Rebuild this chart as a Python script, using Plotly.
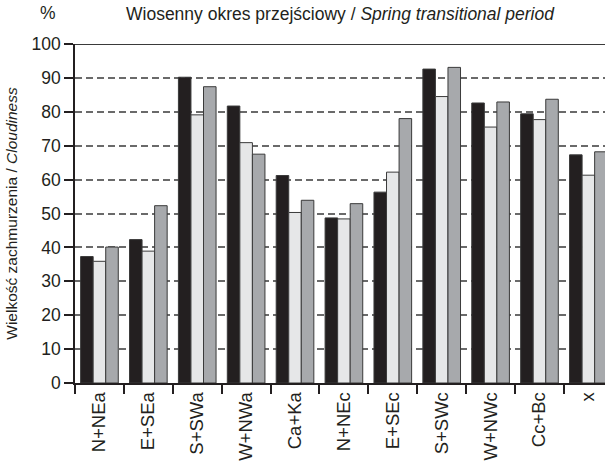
import plotly.graph_objects as go

categories = ["N+NEa", "E+SEa", "S+SWa", "W+NWa", "Ca+Ka", "N+NEc", "E+SEc", "S+SWc", "W+NWc", "Cc+Bc", "x"]
series1 = [37.3, 42.3, 90.2, 81.7, 61.2, 48.7, 56.3, 92.6, 82.6, 79.4, 67.3]
series2 = [35.9, 38.9, 79.1, 70.9, 50.3, 48.4, 62.2, 84.5, 75.5, 77.7, 61.3]
series3 = [40.1, 52.3, 87.4, 67.5, 53.9, 52.9, 78.0, 93.1, 82.9, 83.7, 68.2]
y_ticks = [0, 10, 20, 30, 40, 50, 60, 70, 80, 90, 100]

FONT = "Liberation Sans, Arial, sans-serif"
TXT = "#231f20"

fig = go.Figure()
for vals, col in [(series1, "#231f20"), (series2, "#e6e7e8"), (series3, "#a7a9ac")]:
    fig.add_trace(go.Bar(x=categories, y=vals, marker=dict(color=col, line=dict(color="#3a3a3a", width=1)),
                         showlegend=False))

fig.update_layout(
    width=605, height=467,
    margin=dict(l=75, r=0, t=44, b=84, autoexpand=False),
    paper_bgcolor="white", plot_bgcolor="white",
    barmode="group", bargap=0.23, bargroupgap=0,
    font=dict(family=FONT, size=18, color=TXT),
    title=dict(text="Wiosenny okres przejściowy / <i>Spring transitional period</i>",
               x=0.5, xref="paper", xanchor="center", y=1 - 14 / 467, yanchor="middle",
               font=dict(family=FONT, size=17.5, color=TXT)),
    xaxis=dict(type="category", range=[-0.5, 10.34], tickson="boundaries", ticks="outside",
               ticklen=9, tickcolor="#231f20", tickwidth=1.5, tickangle=-90, automargin=False,
               showline=True, linecolor="#231f20", linewidth=1.5, showgrid=False,
               tickfont=dict(family=FONT, size=18.5, color=TXT)),
    yaxis=dict(range=[0, 100], tickvals=y_ticks, ticks="outside", ticklen=9, automargin=False,
               tickcolor="#231f20", tickwidth=1.5, showline=True, linecolor="#231f20",
               linewidth=1.5, showgrid=True, gridcolor="#6a6a6a", gridwidth=1.5,
               griddash="7px,4px", zeroline=False,
               tickfont=dict(family=FONT, size=17.5, color=TXT),
               title=dict(text="Wielkość zachmurzenia / <i>Cloudiness</i>", standoff=10,
                          font=dict(family=FONT, size=15.5, color=TXT))),
    annotations=[dict(text="%", xref="paper", yref="paper", x=(48 - 75) / 530, y=1 + 31 / 339,
                      xanchor="center", yanchor="middle", showarrow=False,
                      font=dict(family=FONT, size=17.5, color=TXT))],
    shapes=[dict(type="line", xref="paper", yref="y", x0=0, x1=1, y0=100, y1=100,
                 line=dict(color="#3a3a3a", width=2))],
)

fig.write_html("out.html", config={"displayModeBar": False},
               post_script="document.body.style.margin='0px';document.body.style.overflow='hidden';")
